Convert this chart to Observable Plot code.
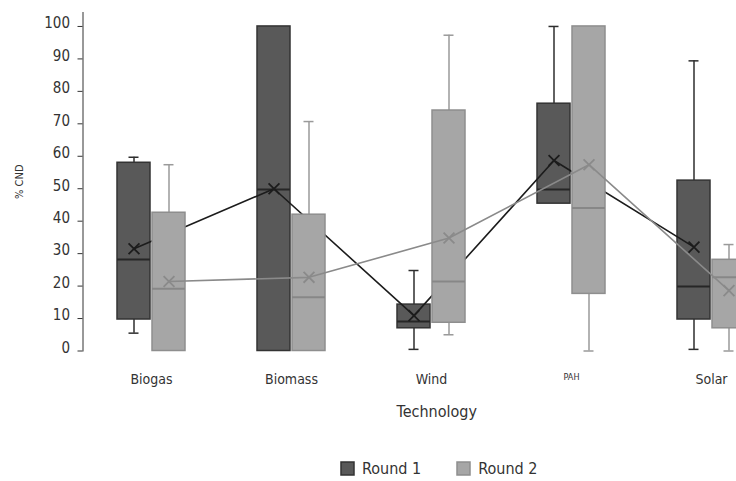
<!DOCTYPE html>
<html>
<head>
<meta charset="utf-8">
<script src="https://cdn.jsdelivr.net/npm/d3@7"></script>
<script src="https://cdn.jsdelivr.net/npm/@observablehq/plot@0.6"></script>
<style>
  html, body { margin: 0; padding: 0; background: #fff; overflow: hidden; }
  #wrap { width: 736px; height: 481px; overflow: hidden; position: relative; }
  #chart svg { overflow: hidden; max-width: none !important; }
  #chart g[aria-label="y-axis tick label"] { translate: 0 -3px; font-size: 15px; }
  #chart g[aria-label="x-axis tick label"] { font-size: 14px; }
  #chart g[aria-label="x-axis tick label"] text:nth-child(4) { font-size: 9px; }
  #chart g[aria-label="x-axis label"] { font-size: 16px; }
  #chart g[aria-label="y-axis label"] { font-size: 11px; }
  #legend { position: absolute; left: 341px; top: 452px; }
  #legend [class$="-swatch"] { margin-right: 36px !important; }
  #legend svg rect { stroke-width: 1.5px; }
</style>
</head>
<body>
<div id="wrap">
  <div id="chart"></div>
  <div id="legend"></div>
</div>
<script>
const techs = ["Biogas", "Biomass", "Wind", "PAH", "Solar"];
const rounds = ["Round 1", "Round 2"];

const r1Min    = [5.5,  0,    0.5,  45.4, 0.5];
const r1Q1     = [9.7,  0,    7.0,  45.4, 9.7];
const r1Median = [28.2, 49.8, 9.1,  49.8, 19.9];
const r1Q3     = [58.0, 100,  14.3, 76.2, 52.5];
const r1Max    = [59.7, 100,  24.8, 100,  89.4];
const r1Mean   = [31.5, 50.0, 10.9, 58.7, 32.0];

const r2Min    = [0,    0,    5.0,  0,    0];
const r2Q1     = [0,    0,    8.7,  17.6, 7.0];
const r2Median = [19.2, 16.6, 21.4, 44.1, 22.7];
const r2Q3     = [42.6, 42.0, 74.1, 100,  28.1];
const r2Max    = [57.4, 70.7, 97.3, 100,  32.8];
const r2Mean   = [21.4, 22.7, 34.8, 57.4, 18.6];

const yTicks = [0, 10, 20, 30, 40, 50, 60, 70, 80, 90, 100];

function table(mins, q1s, meds, q3s, maxs, means) {
  return techs.map((t, i) => ({tech: t, min: mins[i], q1: q1s[i], median: meds[i], q3: q3s[i], max: maxs[i], mean: means[i]}));
}
const data1 = table(r1Min, r1Q1, r1Median, r1Q3, r1Max, r1Mean);
const data2 = table(r2Min, r2Q1, r2Median, r2Q3, r2Max, r2Mean);

const styles = [
  {rows: data1, fill: "#595959", stroke: "#333333", median: "#262626", whisker: "#2e2e2e", mean: "#1c1c1c",
   dx: -17.5, boxL: 36, boxR: 71, capL: 47.5, capR: 82.5},
  {rows: data2, fill: "#a6a6a6", stroke: "#8e8e8e", median: "#878787", whisker: "#9a9a9a", mean: "#8a8a8a",
   dx: 17.5, boxL: 71, boxR: 36, capL: 82.5, capR: 47.5}
];

const marks = [];
for (const s of styles) {
  const hi = s.rows.filter(d => d.max > d.q3);
  const lo = s.rows.filter(d => d.min < d.q1);
  marks.push(
    Plot.ruleX(hi, {x: "tech", y1: "q3", y2: "max", dx: s.dx, stroke: s.whisker, strokeWidth: 1.5}),
    Plot.ruleX(lo, {x: "tech", y1: "min", y2: "q1", dx: s.dx, stroke: s.whisker, strokeWidth: 1.5}),
    Plot.tickY(hi, {x: "tech", y: "max", insetLeft: s.capL, insetRight: s.capR, stroke: s.whisker, strokeWidth: 1.5}),
    Plot.tickY(lo, {x: "tech", y: "min", insetLeft: s.capL, insetRight: s.capR, stroke: s.whisker, strokeWidth: 1.5}),
    Plot.barY(s.rows, {x: "tech", y1: "q1", y2: "q3", insetLeft: s.boxL, insetRight: s.boxR, fill: s.fill, stroke: s.stroke, strokeWidth: 1.5}),
    Plot.tickY(s.rows, {x: "tech", y: "median", insetLeft: s.boxL, insetRight: s.boxR, stroke: s.median, strokeWidth: 2}),
    Plot.line(s.rows, {x: "tech", y: "mean", dx: s.dx, stroke: s.mean, strokeWidth: 1.6}),
    Plot.dot(s.rows, {x: "tech", y: "mean", dx: s.dx, symbol: "times", r: 5, stroke: s.mean, strokeWidth: 1.8})
  );
}

const font = '"Liberation Sans Narrow", "DejaVu Sans Condensed", "Arial Narrow", sans-serif';

const chart = Plot.plot({
  width: 790,
  height: 430,
  marginTop: 12,
  marginBottom: 79.5,
  marginLeft: 82.5,
  marginRight: 0,
  style: {fontFamily: font, fontSize: "15px", color: "#333", background: "#fff", fontStretch: "condensed"},
  x: {
    domain: techs,
    range: [81, 781],
    padding: 0,
    tickSize: 0,
    tickPadding: 23,
    label: "Technology",
    labelAnchor: "center",
    labelOffset: 66
  },
  y: {
    domain: [0, 104.3],
    ticks: yTicks,
    tickSize: 5,
    tickPadding: 8,
    line: true,
    label: "% CND",
    labelArrow: "none",
    labelAnchor: "center",
    labelOffset: 68
  },
  marks
});
document.getElementById("chart").appendChild(chart);

const legend = Plot.legend({
  legend: "swatches",
  color: {domain: rounds, range: [styles[0].fill, styles[1].fill]},
  swatchSize: 13,
  style: {fontFamily: font, fontSize: "16px", color: "#333", fontStretch: "condensed"}
});
document.getElementById("legend").appendChild(legend);
const rects = legend.querySelectorAll("svg rect");
if (rects[0]) rects[0].setAttribute("stroke", styles[0].stroke);
if (rects[1]) rects[1].setAttribute("stroke", styles[1].stroke);
</script>
</body>
</html>
